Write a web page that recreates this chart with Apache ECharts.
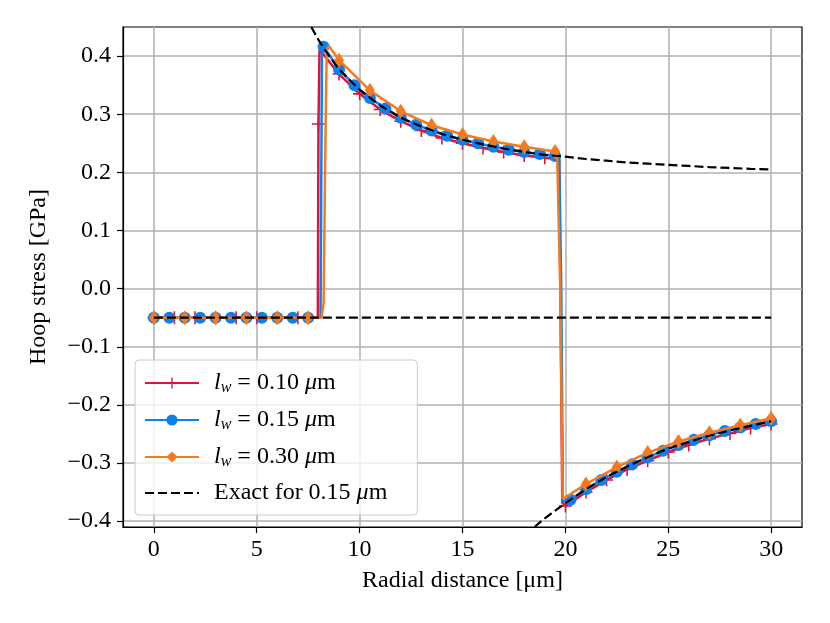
<!DOCTYPE html>
<html>
<head>
<meta charset="utf-8">
<script src="https://cdn.jsdelivr.net/npm/echarts@6/dist/echarts.min.js"></script>
<style>
html, body { margin: 0; padding: 0; background: #fff; }
#main { width: 830px; height: 623px; }
</style>
</head>
<body>
<div id="main"></div>
<script>
// tick values
var xTicks = [0, 5, 10, 15, 20, 25, 30];
var yTicks = [-0.4, -0.3, -0.2, -0.1, 0, 0.1, 0.2, 0.3, 0.4];

// l_w = 0.10 (markers every 1.0)
var redX = [0, 1, 2, 3, 4, 5, 6, 7, 7.97, 8.0, 8.05, 8.2, 9, 10, 11, 12, 13, 14, 15, 16, 17, 18, 19, 19.7, 19.85,
    20, 21, 22, 23, 24, 25, 26, 27, 28, 29, 30];
var redY = [-0.05, -0.05, -0.05, -0.05, -0.05, -0.05, -0.05, -0.05, -0.05, 0.283, 0.41, 0.405, 0.369, 0.335, 0.308,
    0.288, 0.272, 0.259, 0.250, 0.242, 0.235, 0.229, 0.225, 0.222, -0.368,
    -0.374, -0.350, -0.329, -0.311, -0.296, -0.281, -0.269, -0.258, -0.249, -0.240, -0.233];

// l_w = 0.15 (markers every 0.75)
var blueX = [0, 0.75, 1.5, 2.25, 3, 3.75, 4.5, 5.25, 6, 6.75, 7.5, 8.1, 8.17, 8.25, 9, 9.75, 10.5, 11.25, 12,
    12.75, 13.5, 14.25, 15, 15.75, 16.5, 17.25, 18, 18.75, 19.5, 19.7, 19.8, 19.88,
    20.25, 21, 21.75, 22.5, 23.25, 24, 24.75, 25.5, 26.25, 27, 27.75, 28.5, 29.25, 30];
var blueY = [-0.05, -0.05, -0.05, -0.05, -0.05, -0.05, -0.05, -0.05, -0.05, -0.05, -0.05, -0.05, 0.41, 0.416,
    0.377, 0.350, 0.328, 0.310, 0.294, 0.282, 0.272, 0.263, 0.256, 0.250, 0.244, 0.239, 0.235, 0.2315, 0.228,
    0.226, 0.0, -0.366,
    -0.363, -0.345, -0.329, -0.315, -0.302, -0.290, -0.279, -0.269, -0.260, -0.252, -0.245, -0.239, -0.233, -0.228];

// l_w = 0.30 (markers every 1.5)
var orangeX = [0, 1.5, 3, 4.5, 6, 7.5, 8.15, 8.25, 8.32, 8.4, 8.5, 9, 10.5, 12, 13.5, 15, 16.5, 18, 19.5,
    19.6, 19.75, 19.87, 21, 22.5, 24, 25.5, 27, 28.5, 30];
var orangeY = [-0.05, -0.05, -0.05, -0.05, -0.05, -0.05, -0.05, -0.025, 0.2, 0.41, 0.418, 0.393, 0.341, 0.305,
    0.281, 0.265, 0.253, 0.244, 0.236, 0.232, 0.0, -0.362,
    -0.336, -0.307, -0.282, -0.263, -0.248, -0.235, -0.223];

// exact solution, three pieces
var exactUpX = [7.65, 8, 8.5, 9, 10, 11, 12, 13, 14, 15, 16, 17, 18, 19, 20, 21, 22, 23, 24, 25, 26, 27, 28, 29, 30];
var exactUpY = [0.45, 0.428, 0.401, 0.377, 0.342, 0.315, 0.294, 0.279, 0.266, 0.256, 0.248, 0.241, 0.235, 0.230,
    0.227, 0.223, 0.220, 0.217, 0.215, 0.213, 0.211, 0.209, 0.2075, 0.206, 0.205];
var exactMidX = [0, 30];
var exactMidY = [-0.05, -0.05];
var exactLowX = [18.5, 19, 20, 21, 22, 23, 24, 25, 26, 27, 28, 29, 30];
var exactLowY = [-0.41, -0.395, -0.369, -0.345, -0.324, -0.306, -0.290, -0.275, -0.264, -0.253, -0.244, -0.236, -0.228];

var seriesNames = ['l_w = 0.10 μm', 'l_w = 0.15 μm', 'l_w = 0.30 μm', 'Exact for 0.15 μm'];

var RED = '#dc143c', BLUE = '#0a80f2', ORANGE = '#f57a1f';
var FONT = 'Liberation Serif';
var FS = 24;

function pairs(xs, ys) {
    return xs.map(function (x, i) { return [x, ys[i]]; });
}
// marker only on every "step" point, the rest plain line
function marked(xs, ys, step) {
    return xs.map(function (x, i) {
        var k = x / step;
        if (Math.abs(k - Math.round(k)) < 1e-6) return [x, ys[i]];
        return { value: [x, ys[i]], symbol: 'none' };
    });
}

var myChart = echarts.init(document.getElementById('main'));

function lineSeries(idx, xs, ys, step, color, symbol, size, z) {
    return {
        name: seriesNames[idx],
        type: 'line',
        data: marked(xs, ys, step),
        symbol: symbol,
        symbolSize: size,
        showAllSymbol: true,
        lineStyle: { color: color, width: 2.5 },
        itemStyle: { color: color, borderWidth: 0 },
        z: z
    };
}
function exactSeries(xs, ys) {
    return {
        name: seriesNames[3],
        type: 'line',
        data: pairs(xs, ys),
        symbol: 'none',
        lineStyle: { color: '#000', width: 2.2, type: [9, 4] },
        itemStyle: { color: '#000' },
        z: 6
    };
}

var option = {
    animation: false,
    backgroundColor: '#fff',
    textStyle: { fontFamily: FONT },
    grid: {
        left: 123, right: 28, top: 27, bottom: 96,
        show: true, borderColor: '#000', borderWidth: 1.2, backgroundColor: 'transparent'
    },
    legend: {
        orient: 'vertical',
        left: 135, top: 360,
        padding: [10, 30, 10, 9],
        itemGap: 11,
        itemWidth: 54,
        itemHeight: 14,
        backgroundColor: 'rgba(255,255,255,0.8)',
        borderColor: '#cccccc',
        borderWidth: 1,
        borderRadius: 4,
        data: [
            { name: seriesNames[0] },
            { name: seriesNames[1] },
            { name: seriesNames[2] },
            { name: seriesNames[3], itemStyle: { opacity: 0 } }
        ],
        formatter: function (name) {
            if (name.indexOf('l_w') === 0) {
                var num = name.split(' ')[2];
                return '{it|l}{sub|w}{rm| = ' + num + ' }{it|μ}{rm|m}';
            }
            return '{rm|Exact for 0.15 }{it|μ}{rm|m}';
        },
        textStyle: {
            fontFamily: FONT,
            fontSize: FS,
            color: '#000',
            padding: [0, 0, 0, 10],
            rich: {
                rm: { fontFamily: FONT, fontSize: FS, color: '#000', lineHeight: 28 },
                it: { fontFamily: FONT, fontSize: FS, fontStyle: 'italic', color: '#000', lineHeight: 28 },
                sub: { fontFamily: FONT, fontSize: 16, fontStyle: 'italic', color: '#000', lineHeight: 28, padding: [10, 0, 0, 0] }
            }
        }
    },
    xAxis: {
        type: 'value',
        min: -1.5, max: 31.5,
        name: 'Radial distance [μm]',
        nameLocation: 'middle',
        nameGap: 42,
        nameTextStyle: { fontFamily: FONT, fontSize: FS, color: '#000' },
        axisLine: { show: true, onZero: false, lineStyle: { color: '#000', width: 1.2 } },
        axisTick: { show: true, inside: false, length: 6, lineStyle: { color: '#000', width: 1.2 }, customValues: xTicks },
        axisLabel: {
            customValues: xTicks, margin: 11, color: '#000', fontFamily: FONT, fontSize: FS,
            formatter: function (v) { return String(v); }
        },
        splitLine: { show: true, lineStyle: { color: '#b0b0b0', width: 1.5 } }
    },
    yAxis: {
        type: 'value',
        min: -0.41, max: 0.45,
        name: 'Hoop stress [GPa]',
        nameLocation: 'middle',
        nameGap: 72,
        nameTextStyle: { fontFamily: FONT, fontSize: FS, color: '#000' },
        axisLine: { show: true, onZero: false, lineStyle: { color: '#000', width: 1.2 } },
        axisTick: { show: true, inside: false, length: 6, lineStyle: { color: '#000', width: 1.2 }, customValues: yTicks },
        axisLabel: {
            customValues: yTicks, margin: 12, color: '#000', fontFamily: FONT, fontSize: FS,
            formatter: function (v) { return v.toFixed(1).replace('-', '\u2212'); }
        },
        splitLine: { show: true, lineStyle: { color: '#b0b0b0', width: 1.5 } }
    },
    series: [
        lineSeries(0, redX, redY, 1.0, RED,
            'path://M-0.12,-1 L0.12,-1 L0.12,-0.12 L1,-0.12 L1,0.12 L0.12,0.12 L0.12,1 L-0.12,1 L-0.12,0.12 L-1,0.12 L-1,-0.12 L-0.12,-0.12 Z',
            13, 2),
        lineSeries(1, blueX, blueY, 0.75, BLUE, 'circle', 12, 3),
        lineSeries(2, orangeX, orangeY, 1.5, ORANGE, 'path://M0,-1 L0.6,0 L0,1 L-0.6,0 Z', [10, 15], 4),
        exactSeries(exactUpX, exactUpY),
        exactSeries(exactMidX, exactMidY),
        exactSeries(exactLowX, exactLowY)
    ]
};

myChart.setOption(option);
</script>
</body>
</html>
